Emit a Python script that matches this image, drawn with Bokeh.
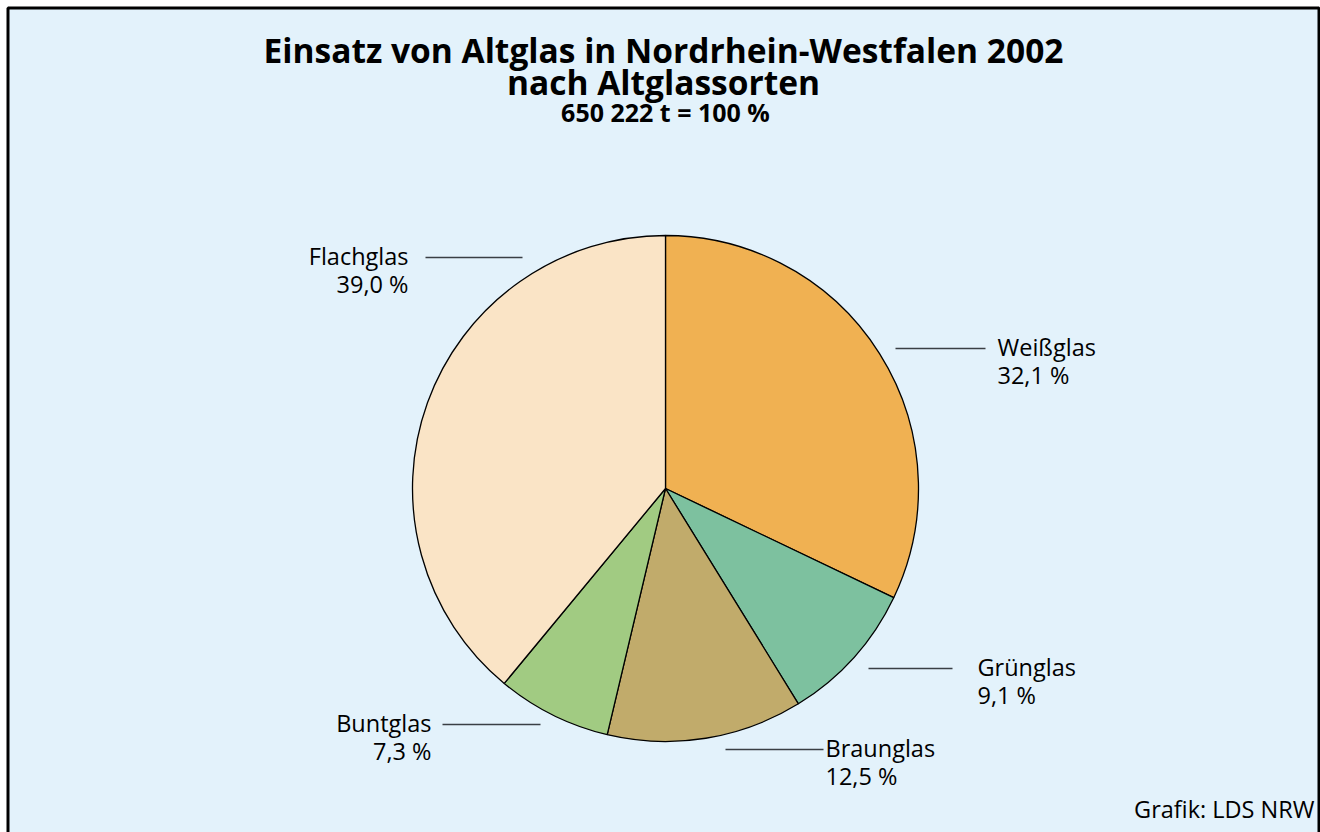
import numpy as np
from bokeh.plotting import figure
from bokeh.models import Range1d
from bokeh.core.properties import value
from bokeh.embed import file_html
from bokeh.resources import INLINE

# ---- data ----
categories = ["Weißglas", "Grünglas", "Braunglas", "Buntglas", "Flachglas"]
shares = [32.1, 9.1, 12.5, 7.3, 39.0]
share_labels = ["32,1 %", "9,1 %", "12,5 %", "7,3 %", "39,0 %"]
colors = ["#F0B152", "#7DC19F", "#C1AB6B", "#A1CB82", "#FAE4C6"]
title_lines = ["Einsatz von Altglas in Nordrhein-Westfalen 2002", "nach Altglassorten"]
subtitle = "650 222 t = 100 %"
source_note = "Grafik: LDS NRW"

# ---- layout (screen pixels; y data = -pixel row) ----
W, H = 1320, 832
FONT = value("Open Sans")
cx, cy, R = 665, -488, 253

# label layout: (line x0, line x1, line y, text x, align)
label_layout = [
    (895, 985, 348, 997, "left"),
    (868, 952, 668, 977, "left"),
    (725, 823, 749, 825, "left"),
    (442, 540, 724, 431, "right"),
    (425, 522, 257, 408, "right"),
]

p = figure(width=W, height=H, output_backend="svg", toolbar_location=None,
           x_range=Range1d(0, W), y_range=Range1d(-H, 0),
           min_border=0, background_fill_color="white",
           border_fill_color="white", outline_line_color=None)
p.axis.visible = False
p.grid.visible = False

# panel frame
p.quad(left=[7.5], right=[1318.5], top=[-7.5], bottom=[-845],
       fill_color="#E3F2FB", line_color="black", line_width=3)

frac = np.array(shares) / sum(shares)
cum = np.concatenate([[0], np.cumsum(frac)])
start = np.pi / 2 - cum[:-1] * 2 * np.pi
end = np.pi / 2 - cum[1:] * 2 * np.pi
p.wedge(x=cx, y=cy, radius=R, start_angle=start, end_angle=end,
        direction="clock", fill_color=colors, line_color="black",
        line_width=1.3)

for (x0, x1, ly, tx, al), name, lab in zip(label_layout, categories, share_labels):
    p.segment(x0=[x0], y0=[-ly], x1=[x1], y1=[-ly], line_color="#3a3f44",
              line_width=1.6)
    p.text(x=[tx], y=[-ly + 1.5], text=[name], text_font=FONT, text_font_size="23.5px",
           text_align=al, text_baseline="middle", text_color="black")
    p.text(x=[tx], y=[-ly - 26.5], text=[lab], text_font=FONT,
           text_font_size="23.5px", text_align=al, text_baseline="middle",
           text_color="black")

p.text(x=[663, 663], y=[-49, -81], text=title_lines, text_font=FONT,
       text_font_size="33.5px", text_font_style="bold", text_align="center",
       text_baseline="middle", text_color="black")
p.text(x=[665], y=[-111], text=[subtitle], text_font=FONT,
       text_font_size="25px", text_font_style="bold", text_align="center",
       text_baseline="middle", text_color="black")
p.text(x=[1314], y=[-808], text=[source_note], text_font=FONT,
       text_font_size="23.5px", text_align="right", text_baseline="middle",
       text_color="black")

html = file_html(p, INLINE)
html = html.replace("</head>", "<style>html,body{overflow:hidden}</style></head>", 1)
open("out.html", "w").write(html)
